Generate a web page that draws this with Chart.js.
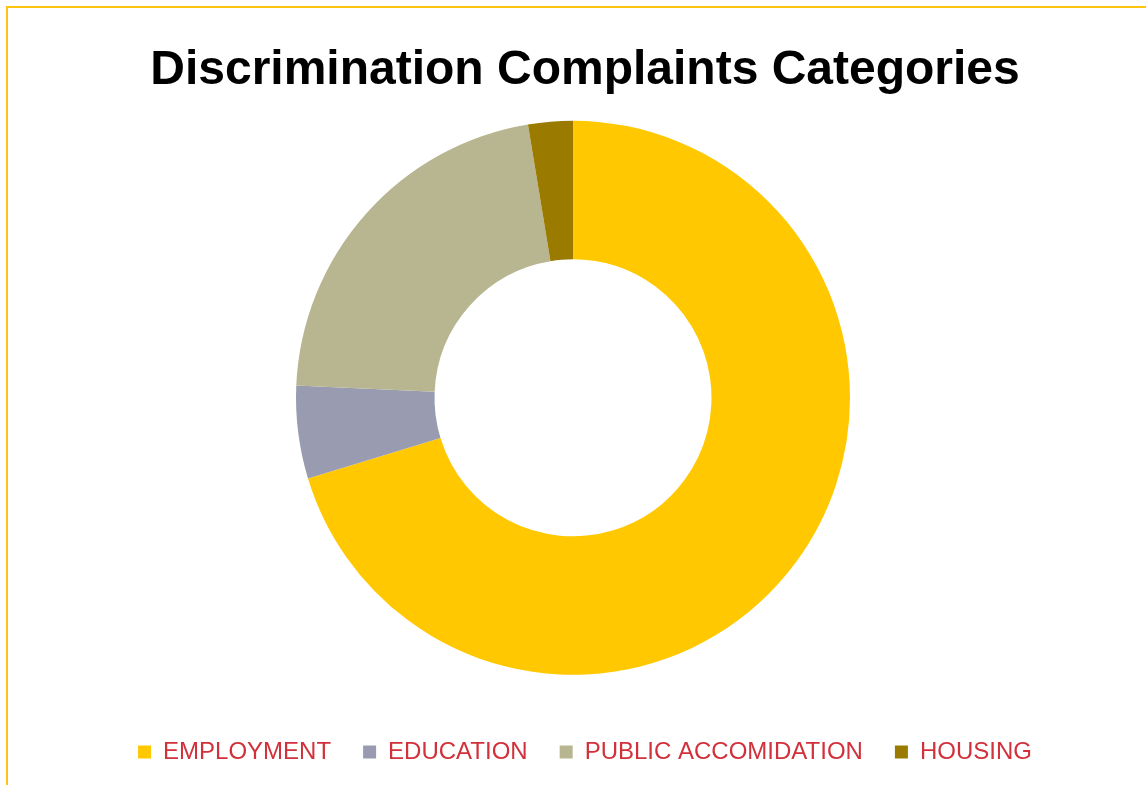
<!DOCTYPE html>
<html>
<head>
<meta charset="utf-8">
<title>Discrimination Complaints Categories</title>
<script src="https://cdn.jsdelivr.net/npm/chart.js@4.4.1/dist/chart.umd.min.js"></script>
<style>
  html,body{ margin:0; padding:0; background:#fff; overflow:hidden; }
  #frame{ position:absolute; left:6px; top:6px; width:2000px; height:2000px;
          border-left:2px solid #ffc20e; border-top:2px solid #ffc20e; }
  #wrap{ position:absolute; left:0; top:0; width:1170px; height:785px; }
</style>
</head>
<body>
<div id="frame"></div>
<div id="wrap"><canvas id="pie"></canvas></div>
<script>
/* ---------- data ---------- */
const TITLE      = 'Discrimination Complaints Categories';
const categories = ['EMPLOYMENT', 'EDUCATION', 'PUBLIC ACCOMIDATION', 'HOUSING'];
const shares     = [70.3, 5.4, 21.7, 2.6];          // % of complaints
const colors     = ['#ffc800', '#999cb0', '#b8b690', '#9b7a00'];

Chart.defaults.font.family = '"Liberation Sans", Arial, sans-serif';

/* ---------- chart ---------- */
new Chart(document.getElementById('pie'), {
  type:'doughnut',
  data:{ labels:categories,
         datasets:[{ data:shares, backgroundColor:colors, borderWidth:0,
                     radius:277, cutout:'50%' }] },
  options:{
    responsive:true, maintainAspectRatio:false, animation:false,
    layout:{ padding:{ bottom:11 } },
    plugins:{
      title:{ display:true, text:TITLE, color:'#000',
              font:{ size:48, weight:'bold' },
              padding:{ top:42, bottom:-12 } },
      /* empty right-hand spacer: nudges the ring left of the legend centre */
      subtitle:{ display:true, text:' ', position:'right',
                 font:{ size:20 }, padding:0 },
      legend:{ position:'bottom',
               labels:{ color:'#d2303a', font:{ size:24 },
                        boxWidth:13, boxHeight:13, padding:32 } },
      tooltip:{ callbacks:{ label:c=>`${c.label}: ${c.raw}%` } }
    }
  }
});
</script>
</body>
</html>
